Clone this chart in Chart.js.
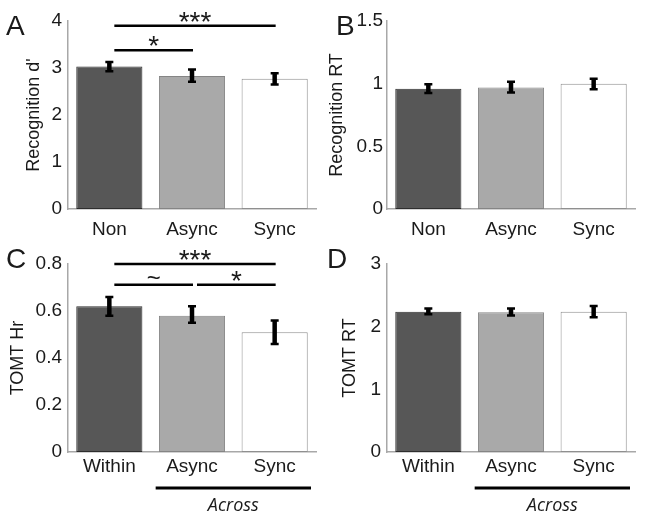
<!DOCTYPE html>
<html>
<head>
<meta charset="utf-8">
<script src="https://cdn.jsdelivr.net/npm/chart.js@4.4.0/dist/chart.umd.min.js"></script>
<style>
  body { margin: 0; background: #fff; width: 645px; height: 516px; position: relative; overflow: hidden; }
  canvas { position: absolute; }
</style>
</head>
<body>
<canvas id="panel-a" width="322" height="250" style="left:0;top:0"></canvas>
<canvas id="panel-b" width="323" height="250" style="left:322px;top:0"></canvas>
<canvas id="panel-c" width="322" height="280" style="left:0;top:236px"></canvas>
<canvas id="panel-d" width="323" height="280" style="left:322px;top:236px"></canvas>
<script>
// categories
const recogLabels = ['Non', 'Async', 'Sync'];
const tomtLabels = ['Within', 'Async', 'Sync'];

// A: recognition d'
const recogDprime = [3.03, 2.83, 2.77];
const recogDprimeLo = [2.93, 2.71, 2.65];
const recogDprimeHi = [3.13, 2.97, 2.89];

// B: recognition RT
const recogRT = [0.96, 0.97, 1.0];
const recogRTLo = [0.925, 0.93, 0.955];
const recogRTHi = [0.995, 1.015, 1.04];

// C: TOMT hit rate
const tomtHr = [0.62, 0.58, 0.51];
const tomtHrLo = [0.58, 0.55, 0.46];
const tomtHrHi = [0.66, 0.62, 0.56];

// D: TOMT RT
const tomtRT = [2.24, 2.23, 2.24];
const tomtRTLo = [2.2, 2.18, 2.15];
const tomtRTHi = [2.29, 2.29, 2.33];

// significance bars: [from, to, value, label]
const sigA = [[0, 2, 3.9, '***'], [0, 1, 3.38, '*']];
const sigC = [[0, 2, 0.8, '***'], [0, 1, 0.712, '~'], [1, 2, 0.712, '*']];

const barFill = ['#575757', '#a9a9a9', '#ffffff'];
const barEdge = ['#2e2e2e', '#858585', '#8f8f8f'];
const axisColor = '#a8a8a8';
const textColor = '#1a1a1a';
const sans = "'Liberation Sans', Arial, sans-serif";

// draw a glyph string centred vertically on cy
function centerText(ctx, text, cx, cy) {
  const m = ctx.measureText(text);
  ctx.fillText(text, cx, cy + (m.actualBoundingBoxAscent - m.actualBoundingBoxDescent) / 2);
}

const extrasPlugin = {
  id: 'extras',
  afterDatasetsDraw(chart, args, opts) {
    const { ctx, scales: { x, y } } = chart;
    ctx.save();

    // error bars
    ctx.strokeStyle = '#000';
    opts.lo.forEach((v, i) => {
      const px = x.getPixelForValue(i);
      const y1 = y.getPixelForValue(v);
      const y2 = y.getPixelForValue(opts.hi[i]);
      ctx.lineWidth = 4.5;
      ctx.beginPath();
      ctx.moveTo(px, y1);
      ctx.lineTo(px, y2);
      ctx.stroke();
      ctx.lineWidth = 2.5;
      ctx.beginPath();
      ctx.moveTo(px - 4, y1); ctx.lineTo(px + 4, y1);
      ctx.moveTo(px - 4, y2); ctx.lineTo(px + 4, y2);
      ctx.stroke();
    });

    // significance lines
    ctx.fillStyle = textColor;
    ctx.textAlign = 'center';
    (opts.sig || []).forEach(([a, b, v, label]) => {
      const x1 = x.getPixelForValue(a) + 5;
      const x2 = x.getPixelForValue(b) + 1;
      const py = y.getPixelForValue(v);
      ctx.lineWidth = 2.5;
      ctx.beginPath();
      ctx.moveTo(x1, py);
      ctx.lineTo(x2, py);
      ctx.stroke();
      ctx.font = (label === '~' ? '24px ' : '28px ') + sans;
      centerText(ctx, label, (x1 + x2) / 2, py - (label === '~' ? 7 : 9));
    });

    // "Across" grouping under the last two categories
    if (opts.across) {
      const half = (x.getPixelForValue(1) - x.getPixelForValue(0)) / 2;
      const x1 = x.getPixelForValue(1) - half + 5;
      const x2 = x.getPixelForValue(2) + half - 5;
      const ly = y.bottom + 36;
      ctx.lineWidth = 3;
      ctx.beginPath();
      ctx.moveTo(x1, ly);
      ctx.lineTo(x2, ly);
      ctx.stroke();
      ctx.font = "italic 18px 'Open Sans', sans-serif";
      centerText(ctx, 'Across', (x1 + x2) / 2, ly + 16);
    }

    // panel letter
    ctx.textAlign = 'left';
    ctx.font = '28px ' + sans;
    ctx.fillText(opts.letter, opts.letterX, opts.letterY);
    ctx.restore();
  }
};

function makePanel(id, cfg) {
  const ctx = document.getElementById(id).getContext('2d');
  return new Chart(ctx, {
    type: 'bar',
    data: {
      labels: cfg.labels,
      datasets: [{
        data: cfg.values,
        backgroundColor: barFill,
        borderColor: barEdge,
        borderWidth: 1,
        borderSkipped: false,
        barPercentage: 0.8,
        categoryPercentage: 1.0
      }]
    },
    options: {
      responsive: false,
      animation: false,
      events: [],
      layout: { padding: { left: 0, top: cfg.top, right: cfg.right, bottom: 0 } },
      plugins: {
        legend: { display: false },
        tooltip: { enabled: false },
        extras: cfg.extras
      },
      scales: {
        x: {
          grid: { display: false, drawTicks: false },
          border: { display: true, color: axisColor, width: 1.5 },
          ticks: { color: textColor, font: { family: sans, size: 19 }, padding: cfg.xPad },
          afterFit: s => { s.height = cfg.xHeight; }
        },
        y: {
          min: 0,
          max: cfg.max,
          grid: { display: false, drawTicks: false },
          border: { display: true, color: axisColor, width: 1.5 },
          ticks: {
            stepSize: cfg.step,
            color: textColor,
            font: { family: sans, size: 19 },
            padding: cfg.yPad,
            callback: v => String(+v.toFixed(2))
          },
          title: {
            display: true,
            text: cfg.title,
            color: textColor,
            font: { family: sans, size: 18 },
            padding: { top: cfg.titlePad, bottom: 0 }
          },
          afterFit: s => { s.width = cfg.yWidth; }
        }
      }
    },
    plugins: [extrasPlugin]
  });
}

makePanel('panel-a', {
  labels: recogLabels, values: recogDprime, max: 4, step: 1,
  title: "Recognition d'", titlePad: 23, yWidth: 68, top: 21, right: 6, xHeight: 41, xPad: 9, yPad: 6,
  extras: { lo: recogDprimeLo, hi: recogDprimeHi, sig: sigA, letter: 'A', letterX: 6, letterY: 35 }
});

makePanel('panel-b', {
  labels: recogLabels, values: recogRT, max: 1.5, step: 0.5,
  title: 'Recognition RT', titlePad: 4, yWidth: 65, top: 21, right: 10, xHeight: 41, xPad: 9, yPad: 4,
  extras: { lo: recogRTLo, hi: recogRTHi, letter: 'B', letterX: 14, letterY: 35 }
});

makePanel('panel-c', {
  labels: tomtLabels, values: tomtHr, max: 0.8, step: 0.2,
  title: 'TOMT Hr', titlePad: 7, yWidth: 68, top: 28, right: 6, xHeight: 64, xPad: 3, yPad: 6,
  extras: { lo: tomtHrLo, hi: tomtHrHi, sig: sigC, across: true, letter: 'C', letterX: 6, letterY: 32 }
});

makePanel('panel-d', {
  labels: tomtLabels, values: tomtRT, max: 3, step: 1,
  title: 'TOMT RT', titlePad: 17, yWidth: 65, top: 28, right: 10, xHeight: 64, xPad: 3, yPad: 6,
  extras: { lo: tomtRTLo, hi: tomtRTHi, across: true, letter: 'D', letterX: 5, letterY: 32 }
});
</script>
</body>
</html>
